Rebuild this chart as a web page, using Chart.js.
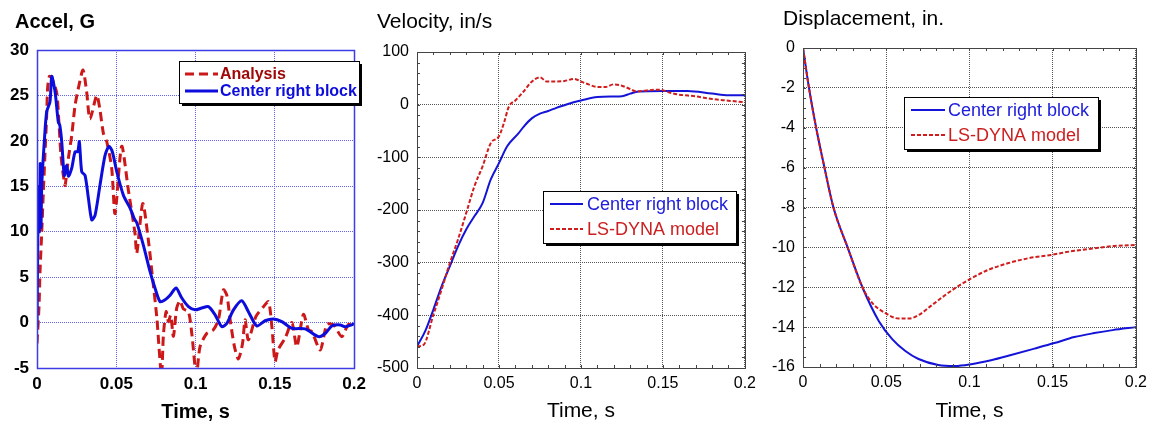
<!DOCTYPE html>
<html>
<head>
<meta charset="utf-8">
<script src="https://cdn.jsdelivr.net/npm/chart.js@4.4.1/dist/chart.umd.min.js"></script>
<style>
  html, body { margin: 0; padding: 0; background: #fff; width: 1153px; height: 425px; overflow: hidden; }
  canvas { position: absolute; top: 0; }
</style>
</head>
<body>
<canvas id="accel" width="372" height="425" style="left:0"></canvas>
<canvas id="vel" width="390" height="425" style="left:372px"></canvas>
<canvas id="disp" width="391" height="425" style="left:762px"></canvas>
<script>
const FONT = "'Liberation Sans', Arial, Helvetica, sans-serif";

// accel, G
const accelTimeAnalysis = [0, 0.0013, 0.0019, 0.003, 0.004, 0.005, 0.0061, 0.0067, 0.0078, 0.0093,
  0.0124, 0.0139, 0.0151, 0.0166, 0.0177, 0.0198, 0.0219, 0.024, 0.0261, 0.029,
  0.0313, 0.0334, 0.0377, 0.0397, 0.0419, 0.044, 0.0471, 0.0492, 0.0534, 0.0576,
  0.0618, 0.0629, 0.0667, 0.0702, 0.073, 0.0755, 0.0785, 0.0797, 0.0814, 0.0829,
  0.0843, 0.086, 0.0881, 0.0902, 0.0923, 0.0955, 0.0976, 0.1005, 0.1028, 0.107,
  0.1112, 0.1144, 0.1175, 0.1197, 0.1218, 0.1245, 0.127, 0.1296, 0.1312, 0.1333,
  0.138, 0.1428, 0.146, 0.1481, 0.1501, 0.152, 0.1565, 0.1607, 0.1638, 0.168,
  0.1712, 0.1733, 0.1786, 0.1828, 0.187, 0.1922, 0.1964, 0.2];
const accelAnalysis = [-2.3, 1.9, 5.6, 10, 14.4, 18.4, 22.8, 25.8, 27.1, 26.9,
  25.3, 21.8, 18.4, 16.2, 15.1, 18.1, 20.6, 23.9, 25.8, 27.8,
  25.4, 22.4, 25.0, 23.4, 20.8, 19.9, 17.0, 12.0, 19.4, 14.6,
  9.8, 7.6, 13.1, 9.1, 4.7, 0.65, -5.8, -1.4, 1.2, 0.1,
  0.8, -1.5, 1.6, 2.4, 1.5, 1.2, -1.2, -5.8, -2.65, -1.2,
  -0.8, 0.3, 3.6, 3.0, 0.3, -2.65, -4.0, -2.3, 0.3, -1.9,
  0.65, 1.75, 2.3, -0.45, -4.3, -3.0, -1.7, 0.0, -2.65, 0.9,
  -0.8, -1.0, -3.0, -0.2, -0.26, -1.55, -0.2, -0.5];
const accelTimeBlock = [0, 0.0005, 0.001, 0.0015, 0.002, 0.0025, 0.003, 0.0046, 0.0061, 0.0082,
  0.0093, 0.0114, 0.0134, 0.0144, 0.0156, 0.0172, 0.0187, 0.0198, 0.0219, 0.024,
  0.0257, 0.0267, 0.0282, 0.0303, 0.0324, 0.0345, 0.0366, 0.0397, 0.0429, 0.0454,
  0.0475, 0.0503, 0.0545, 0.0587, 0.0614, 0.0629, 0.0671, 0.0713, 0.0744, 0.0776,
  0.0808, 0.0839, 0.0877, 0.0913, 0.0955, 0.0997, 0.1039, 0.1081, 0.1123, 0.1165,
  0.1197, 0.1239, 0.1291, 0.1333, 0.1386, 0.1438, 0.1491, 0.1544, 0.1607, 0.1691,
  0.1775, 0.1817, 0.1859, 0.1912, 0.1943, 0.2];
const accelBlock = [-0.5, 9, 15, 10, 17.5, 10.5, 15.1, 19.9, 23.2, 24.3,
  27.1, 25.4, 22.1, 21.7, 19.9, 16.2, 17.3, 16.1, 17.0, 18.8,
  18.8, 19.9, 16.6, 16.2, 13.7, 11.3, 11.8, 15.1, 18.4, 19.4,
  18.8, 16.6, 14.0, 12.6, 11.4, 11.0, 8.5, 5.6, 3.8, 2.3,
  2.5, 3.0, 3.8, 2.7, 1.75, 1.4, 1.6, 1.75, 0.85, -0.45,
  -0.1, 1.4, 2.4, 1.2, -0.37, 0.2, 0.4, 0.1, -0.63, -0.7,
  -1.55, -1.2, -0.37, -0.26, -0.45, -0.15];

// velocity, in/s
const velTimeBlock = [0, 0.005, 0.01, 0.015, 0.02, 0.025, 0.03, 0.035, 0.04, 0.045,
  0.05, 0.055, 0.062, 0.065, 0.07, 0.075, 0.08, 0.085, 0.09, 0.095,
  0.1, 0.11, 0.12, 0.125, 0.13, 0.135, 0.15, 0.165, 0.18, 0.19, 0.2];
const velBlock = [-459, -430, -389, -345, -307, -269, -237, -212, -187, -142,
  -111, -79, -54, -42, -26, -17, -12, -6, -1, 4,
  8, 14.5, 15.5, 16, 21, 25, 26, 26, 21, 18, 18];
const velTimeModel = [0, 0.004, 0.01, 0.015, 0.02, 0.025, 0.03, 0.035, 0.04, 0.045,
  0.05, 0.053, 0.056, 0.06, 0.065, 0.07, 0.075, 0.079, 0.085, 0.09,
  0.096, 0.1, 0.105, 0.11, 0.115, 0.12, 0.125, 0.13, 0.134, 0.14,
  0.148, 0.155, 0.16, 0.17, 0.18, 0.19, 0.2];
const velModel = [-459, -456, -399, -351, -301, -256, -206, -155, -117, -73,
  -60, -35, -4, 8, 25, 43.6, 52, 44, 44, 45,
  49, 44, 38, 33.5, 33.5, 38.6, 36, 29.7, 25, 27,
  28.5, 22, 19, 15.8, 10.8, 7.6, 4.4];

// displacement, in.
const dispTimeBlock = [0, 0.0036, 0.0079, 0.0129, 0.0183, 0.0268, 0.0357, 0.0456, 0.0536, 0.0615,
  0.0694, 0.0813, 0.0913, 0.101, 0.113, 0.125, 0.139, 0.151, 0.163, 0.175, 0.186, 0.2];
const dispBlock = [0, -2, -4, -6, -8, -10, -12, -13.7, -14.6, -15.2,
  -15.6, -15.9, -15.95, -15.86, -15.66, -15.4, -15.08, -14.8, -14.5, -14.3, -14.15, -14.0];
const dispTimeModel = [0, 0.0036, 0.0079, 0.0129, 0.0183, 0.0268, 0.0357, 0.0417, 0.0496, 0.0575,
  0.0635, 0.0694, 0.0774, 0.0853, 0.0933, 0.101, 0.111, 0.123, 0.135, 0.149,
  0.163, 0.175, 0.187, 0.2];
const dispModel = [0, -2, -4, -6, -8, -10, -12, -12.8, -13.3, -13.57,
  -13.57, -13.4, -12.9, -12.4, -11.94, -11.56, -11.14, -10.8, -10.55, -10.38,
  -10.17, -10.05, -9.93, -9.88];

const pts = (ts, vs) => ts.map((t, i) => ({ x: t, y: vs[i] }));
const num = v => String(+v.toFixed(3));

// frame, inward minor ticks, panel title and boxed legend
const panelDecor = {
  id: 'panelDecor',
  afterDraw(chart, args, o) {
    const { ctx, chartArea: a } = chart;
    const sx = chart.scales.x, sy = chart.scales.y;
    ctx.save();
    if (o.minor) {
      ctx.strokeStyle = o.frameColor;
      ctx.lineWidth = 1;
      ctx.beginPath();
      const nx = Math.round((sx.max - sx.min) / o.minor.x);
      for (let i = 0; i <= nx; i++) {
        const px = Math.round(sx.getPixelForValue(sx.min + i * o.minor.x)) + 0.5;
        ctx.moveTo(px, a.top); ctx.lineTo(px, a.top + o.minor.len);
        ctx.moveTo(px, a.bottom); ctx.lineTo(px, a.bottom - o.minor.len);
      }
      const ny = Math.round((sy.max - sy.min) / o.minor.y);
      for (let i = 0; i <= ny; i++) {
        const py = Math.round(sy.getPixelForValue(sy.min + i * o.minor.y)) + 0.5;
        ctx.moveTo(a.left, py); ctx.lineTo(a.left + o.minor.len, py);
        ctx.moveTo(a.right, py); ctx.lineTo(a.right - o.minor.len, py);
      }
      ctx.stroke();
    }
    ctx.strokeStyle = o.frameColor;
    ctx.lineWidth = o.frameWidth;
    ctx.strokeRect(Math.round(a.left) + 0.5, Math.round(a.top) + 0.5,
      Math.round(a.right - a.left), Math.round(a.bottom - a.top));

    const L = o.legend;
    ctx.fillStyle = '#000';
    ctx.fillRect(L.x + 3, L.y + 3, L.w, L.h);
    ctx.fillStyle = '#fff';
    ctx.fillRect(L.x, L.y, L.w, L.h);
    ctx.strokeStyle = '#000';
    ctx.lineWidth = 1;
    ctx.strokeRect(L.x + 0.5, L.y + 0.5, L.w, L.h);
    ctx.font = L.font;
    ctx.textBaseline = 'middle';
    ctx.textAlign = 'left';
    L.order.forEach((di, k) => {
      const ds = chart.data.datasets[di];
      const yy = L.rows[k];
      ctx.strokeStyle = ds.borderColor;
      ctx.lineWidth = ds.borderWidth;
      ctx.setLineDash(ds.borderDash || []);
      ctx.beginPath();
      ctx.moveTo(L.x1, yy); ctx.lineTo(L.x2, yy);
      ctx.stroke();
      ctx.setLineDash([]);
      ctx.fillStyle = L.colors[k];
      ctx.fillText(ds.label, L.tx, yy + 1);
    });

    ctx.fillStyle = '#000';
    ctx.font = o.titleFont;
    ctx.fillText(o.title, o.titleX, o.titleY);
    ctx.restore();
  }
};

function axes(o) {
  const tickFont = { family: FONT, size: o.tickSize, weight: o.bold ? 'bold' : 'normal' };
  return {
    x: {
      type: 'linear', min: 0, max: 0.2,
      ticks: { stepSize: 0.05, padding: 6, color: '#000', font: tickFont, callback: num, maxRotation: 0 },
      grid: { color: o.gridColor, lineWidth: 1, drawTicks: false },
      border: { display: true, color: o.frameColor, dash: [1, 1] },
      title: { display: true, text: 'Time, s', color: '#000', padding: { top: 0, bottom: 1 },
        font: { family: FONT, size: o.xTitleSize, weight: o.bold ? 'bold' : 'normal' } },
      afterFit: s => { s.height = o.xh; }
    },
    y: {
      type: 'linear', min: o.ymin, max: o.ymax,
      ticks: { stepSize: o.ystep, padding: 8, color: '#000', font: tickFont, callback: num },
      grid: { color: o.gridColor, lineWidth: 1, drawTicks: false },
      border: { display: true, color: o.frameColor, dash: [1, 1] },
      afterFit: s => { s.width = o.yw; }
    }
  };
}

const common = {
  responsive: false,
  animation: false,
  devicePixelRatio: 1,
  elements: { point: { radius: 0 } },
  plugins: { legend: { display: false }, tooltip: { enabled: false } }
};

new Chart(document.getElementById('accel'), {
  type: 'line',
  data: {
    datasets: [
      { label: 'Analysis', data: pts(accelTimeAnalysis, accelAnalysis), borderColor: '#cc1818',
        borderWidth: 3, borderDash: [9, 5], tension: 0.25, order: 1 },
      { label: 'Center right block', data: pts(accelTimeBlock, accelBlock), borderColor: '#0c0cdc',
        borderWidth: 3, tension: 0.25, order: 0 }
    ]
  },
  options: Object.assign({}, common, {
    layout: { padding: { left: 0, top: 50, right: 17, bottom: 0 } },
    scales: axes({ ymin: -5, ymax: 30, ystep: 5, yw: 37, xh: 57, tickSize: 17, xTitleSize: 20, bold: true,
      gridColor: '#6262ec', frameColor: '#3c3ce4' }),
    plugins: Object.assign({}, common.plugins, {
      panelDecor: {
        frameColor: '#3c3ce4', frameWidth: 1.5,
        title: 'Accel, G', titleFont: 'bold 20px ' + FONT, titleX: 15, titleY: 22,
        legend: { x: 179, y: 61, w: 180, h: 42, x1: 185, x2: 218, tx: 220, rows: [74, 91], order: [0, 1],
          font: 'bold 16px ' + FONT, colors: ['#a00808', '#0c0cdc'] }
      }
    })
  }),
  plugins: [panelDecor]
});

new Chart(document.getElementById('vel'), {
  type: 'line',
  data: {
    datasets: [
      { label: 'Center right block', data: pts(velTimeBlock, velBlock), borderColor: '#1414d8',
        borderWidth: 2, cubicInterpolationMode: 'monotone', order: 1 },
      { label: 'LS-DYNA model', data: pts(velTimeModel, velModel), borderColor: '#d01c1c',
        borderWidth: 2, borderDash: [4, 2], cubicInterpolationMode: 'monotone', order: 0 }
    ]
  },
  options: Object.assign({}, common, {
    layout: { padding: { left: 0, top: 52, right: 12, bottom: 0 } },
    scales: axes({ ymin: -500, ymax: 100, ystep: 100, yw: 45, xh: 57, tickSize: 16, xTitleSize: 21, bold: false,
      gridColor: '#555', frameColor: '#444' }),
    plugins: Object.assign({}, common.plugins, {
      panelDecor: {
        frameColor: '#444', frameWidth: 1, minor: { x: 0.01, y: 20, len: 3 },
        title: 'Velocity, in/s', titleFont: '21px ' + FONT, titleX: 5, titleY: 22,
        legend: { x: 171, y: 191, w: 193, h: 52, x1: 178, x2: 211, tx: 215, rows: [204, 229], order: [0, 1],
          font: '18px ' + FONT, colors: ['#2020dc', '#cc2020'] }
      }
    })
  }),
  plugins: [panelDecor]
});

new Chart(document.getElementById('disp'), {
  type: 'line',
  data: {
    datasets: [
      { label: 'Center right block', data: pts(dispTimeBlock, dispBlock), borderColor: '#1414d8',
        borderWidth: 2, cubicInterpolationMode: 'monotone', order: 1 },
      { label: 'LS-DYNA model', data: pts(dispTimeModel, dispModel), borderColor: '#d01c1c',
        borderWidth: 2, borderDash: [4, 2], cubicInterpolationMode: 'monotone', order: 0 }
    ]
  },
  options: Object.assign({}, common, {
    layout: { padding: { left: 0, top: 48, right: 14, bottom: 0 } },
    scales: axes({ ymin: -16, ymax: 0, ystep: 2, yw: 41, xh: 58, tickSize: 16, xTitleSize: 21, bold: false,
      gridColor: '#555', frameColor: '#444' }),
    plugins: Object.assign({}, common.plugins, {
      panelDecor: {
        frameColor: '#444', frameWidth: 1, minor: { x: 0.01, y: 0.5, len: 3 },
        title: 'Displacement, in.', titleFont: '21px ' + FONT, titleX: 21, titleY: 19,
        legend: { x: 142, y: 97, w: 194, h: 52, x1: 149, x2: 183, tx: 186, rows: [110, 135], order: [0, 1],
          font: '18px ' + FONT, colors: ['#2020dc', '#cc2020'] }
      }
    })
  }),
  plugins: [panelDecor]
});
</script>
</body>
</html>
